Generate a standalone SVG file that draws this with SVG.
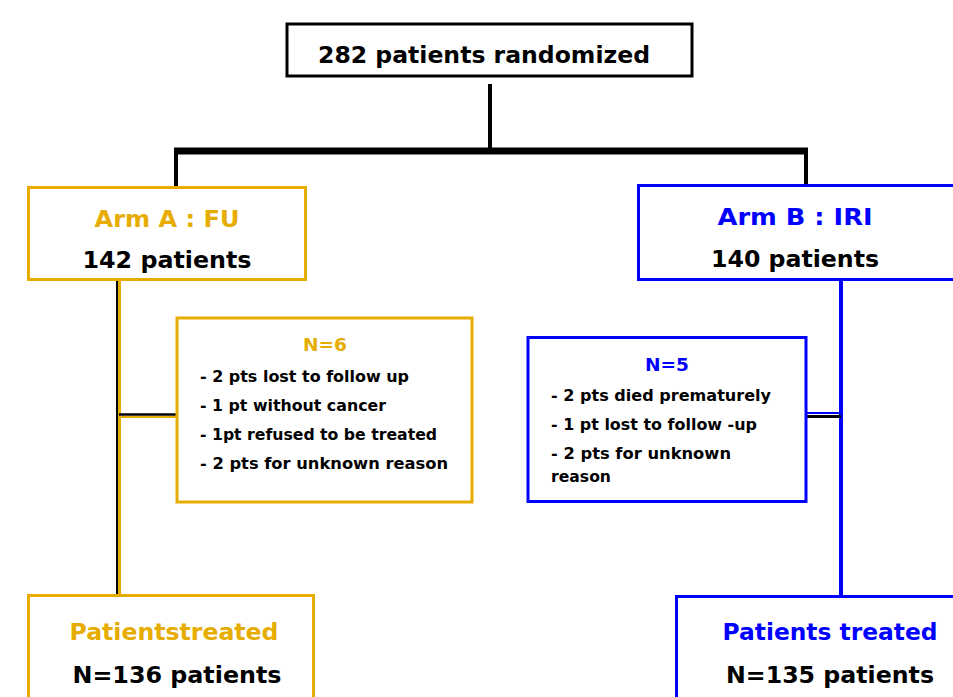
<svg xmlns="http://www.w3.org/2000/svg" width="953" height="697" viewBox="0 0 953 697">
<style>
text{font-family:"DejaVu Sans","Liberation Sans",sans-serif;font-weight:bold;}
.big{font-size:23.5px;text-anchor:middle;}
.sm{font-size:16px;}
.gold{fill:#E6AC00;}
.blue{fill:#0000FF;}
.blk{fill:#000;}
.bx{fill:#fff;stroke-width:3;}
</style>
<rect width="953" height="697" fill="#fff"/>
<g id="connectors" fill="none">
<line x1="490" y1="84" x2="490" y2="151" stroke="#000" stroke-width="4"/>
<line x1="174" y1="151" x2="808" y2="151" stroke="#000" stroke-width="7"/>
<line x1="176" y1="150" x2="176" y2="190" stroke="#000" stroke-width="4"/>
<line x1="806" y1="150" x2="806" y2="187" stroke="#000" stroke-width="4"/>
<line x1="117" y1="280" x2="117" y2="596" stroke="#000" stroke-width="2"/>
<line x1="119.5" y1="280" x2="119.5" y2="596" stroke="#E6AC00" stroke-width="3"/>
<line x1="119" y1="414.5" x2="177" y2="414.5" stroke="#000" stroke-width="2.5"/>
<line x1="119" y1="417" x2="177" y2="417" stroke="#E6AC00" stroke-width="2"/>
<line x1="841" y1="280" x2="841" y2="597" stroke="#0000FF" stroke-width="4"/>
<line x1="806" y1="413" x2="841" y2="413" stroke="#0000FF" stroke-width="2"/>
<line x1="806" y1="416.5" x2="841" y2="416.5" stroke="#000" stroke-width="3"/>
</g>
<g id="top">
<rect class="bx" x="287" y="24" width="405" height="52" stroke="#000"/>
<text class="big blk" x="484" y="63" textLength="332" lengthAdjust="spacingAndGlyphs">282 patients randomized</text>
</g>
<g id="armA">
<rect class="bx" x="28.5" y="187.5" width="277" height="92" stroke="#E6AC00"/>
<text class="big gold" x="167" y="227" textLength="145" lengthAdjust="spacingAndGlyphs">Arm A : FU</text>
<text class="big blk" x="167" y="268" textLength="169" lengthAdjust="spacingAndGlyphs">142 patients</text>
</g>
<g id="armB">
<rect class="bx" x="638.5" y="185.5" width="318" height="94" stroke="#0000FF"/>
<text class="big blue" x="795" y="225" textLength="155" lengthAdjust="spacingAndGlyphs">Arm B : IRI</text>
<text class="big blk" x="795" y="267" textLength="168" lengthAdjust="spacingAndGlyphs">140 patients</text>
</g>
<g id="exclA">
<rect class="bx" x="177" y="318" width="295" height="184" stroke="#E6AC00"/>
<text class="gold" x="325" y="351" font-size="18" text-anchor="middle" textLength="44" lengthAdjust="spacingAndGlyphs">N=6</text>
<text class="sm blk" x="200" y="382" textLength="209" lengthAdjust="spacingAndGlyphs">- 2 pts lost to follow up</text>
<text class="sm blk" x="200" y="411" textLength="186" lengthAdjust="spacingAndGlyphs">- 1 pt without cancer</text>
<text class="sm blk" x="200" y="440" textLength="237" lengthAdjust="spacingAndGlyphs">- 1pt refused to be treated</text>
<text class="sm blk" x="200" y="469" textLength="248" lengthAdjust="spacingAndGlyphs">- 2 pts for unknown reason</text>
</g>
<g id="exclB">
<rect class="bx" x="528" y="337.5" width="278" height="164" stroke="#0000FF"/>
<text class="blue" x="667" y="371" font-size="18" text-anchor="middle" textLength="44" lengthAdjust="spacingAndGlyphs">N=5</text>
<text class="sm blk" x="551" y="401" textLength="220" lengthAdjust="spacingAndGlyphs">- 2 pts died prematurely</text>
<text class="sm blk" x="551" y="430" textLength="206" lengthAdjust="spacingAndGlyphs">- 1 pt lost to follow -up</text>
<text class="sm blk" x="551" y="459" textLength="180" lengthAdjust="spacingAndGlyphs">- 2 pts for unknown</text>
<text class="sm blk" x="551" y="482" textLength="60" lengthAdjust="spacingAndGlyphs">reason</text>
</g>
<g id="treatedA">
<rect class="bx" x="28.5" y="595.5" width="285" height="110" stroke="#E6AC00"/>
<text class="big gold" x="174" y="640" textLength="209" lengthAdjust="spacingAndGlyphs">Patientstreated</text>
<text class="big blk" x="177" y="683" textLength="209" lengthAdjust="spacingAndGlyphs">N=136 patients</text>
</g>
<g id="treatedB">
<rect class="bx" x="676.5" y="596.5" width="290" height="110" stroke="#0000FF"/>
<text class="big blue" x="830" y="640" textLength="215" lengthAdjust="spacingAndGlyphs">Patients treated</text>
<text class="big blk" x="830" y="683" textLength="208" lengthAdjust="spacingAndGlyphs">N=135 patients</text>
</g>
</svg>
